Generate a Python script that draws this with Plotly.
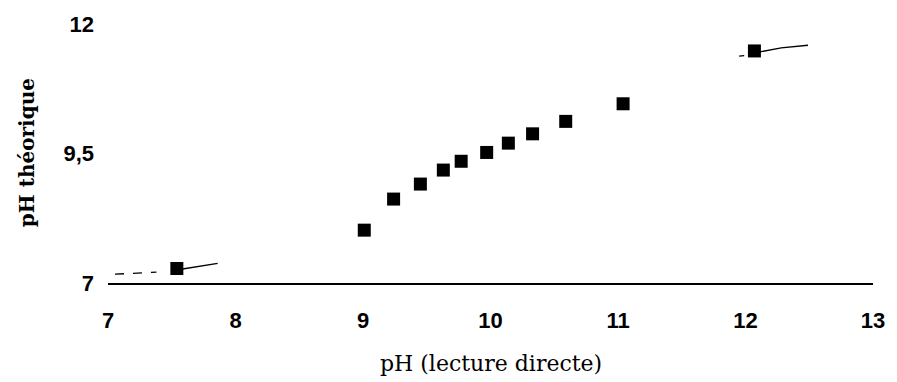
import plotly.graph_objects as go

# Data
ph_direct = [7.54, 9.01, 9.24, 9.45, 9.63, 9.77, 9.97, 10.14, 10.33, 10.59, 11.04, 12.07]
ph_theorique = [7.28, 8.02, 8.62, 8.91, 9.18, 9.35, 9.52, 9.70, 9.88, 10.12, 10.46, 11.48]

# Fragments of the (partially printed) curve
curve_a_x = [7.055, 7.38]
curve_a_y = [7.17, 7.21]
curve_b_x = [7.585, 7.72, 7.86]
curve_b_y = [7.27, 7.33, 7.38]
curve_c_x = [11.95, 11.99]
curve_c_y = [11.38, 11.39]
curve_d_x = [12.11, 12.28, 12.49]
curve_d_y = [11.46, 11.54, 11.59]

x_ticks = [7, 8, 9, 10, 11, 12, 13]
y_ticks = [7, 9.5, 12]
y_ticktext = ["7", "9,5", "12"]

fig = go.Figure()

for cx, cy, dash in [(curve_a_x, curve_a_y, "dash"), (curve_b_x, curve_b_y, "solid"),
                     (curve_c_x, curve_c_y, "solid"), (curve_d_x, curve_d_y, "solid")]:
    fig.add_trace(go.Scatter(x=cx, y=cy, mode="lines",
                             line=dict(color="black", width=1.3, dash=dash),
                             showlegend=False, hoverinfo="skip"))

fig.add_trace(go.Scatter(
    x=ph_direct, y=ph_theorique, mode="markers",
    marker=dict(symbol="square", size=13, color="black"),
    showlegend=False, cliponaxis=False,
))

tick_font = dict(family="Liberation Sans", size=22, color="black", weight="bold")

fig.update_layout(
    width=897, height=382,
    margin=dict(l=108, r=20, t=21, b=99),
    paper_bgcolor="white", plot_bgcolor="white",
    font=dict(family="Liberation Sans", size=22, color="black"),
    xaxis=dict(range=[7, 13], tickvals=x_ticks, ticktext=[str(v) for v in x_ticks],
               showgrid=False, zeroline=False, showline=True, linecolor="black",
               linewidth=1.8, ticks="", ticklabelstandoff=17,
               tickfont=tick_font),
    yaxis=dict(range=[7, 12], tickvals=y_ticks, ticktext=y_ticktext,
               showgrid=False, zeroline=False, showline=False, ticks="",
               ticklabelstandoff=13,
               tickfont=tick_font),
    annotations=[
        dict(text="pH (lecture directe)", xref="paper", yref="paper",
             x=0.5, y=-0.309, xanchor="center", yanchor="middle", showarrow=False,
             font=dict(family="DejaVu Serif", size=22, color="black")),
        dict(text="<b>pH théorique</b>", xref="paper", yref="paper",
             x=-0.105, y=0.504, xanchor="center", yanchor="middle", showarrow=False,
             textangle=-90,
             font=dict(family="DejaVu Serif", size=20, color="black")),
    ],
)

fig.write_html("out.html")
